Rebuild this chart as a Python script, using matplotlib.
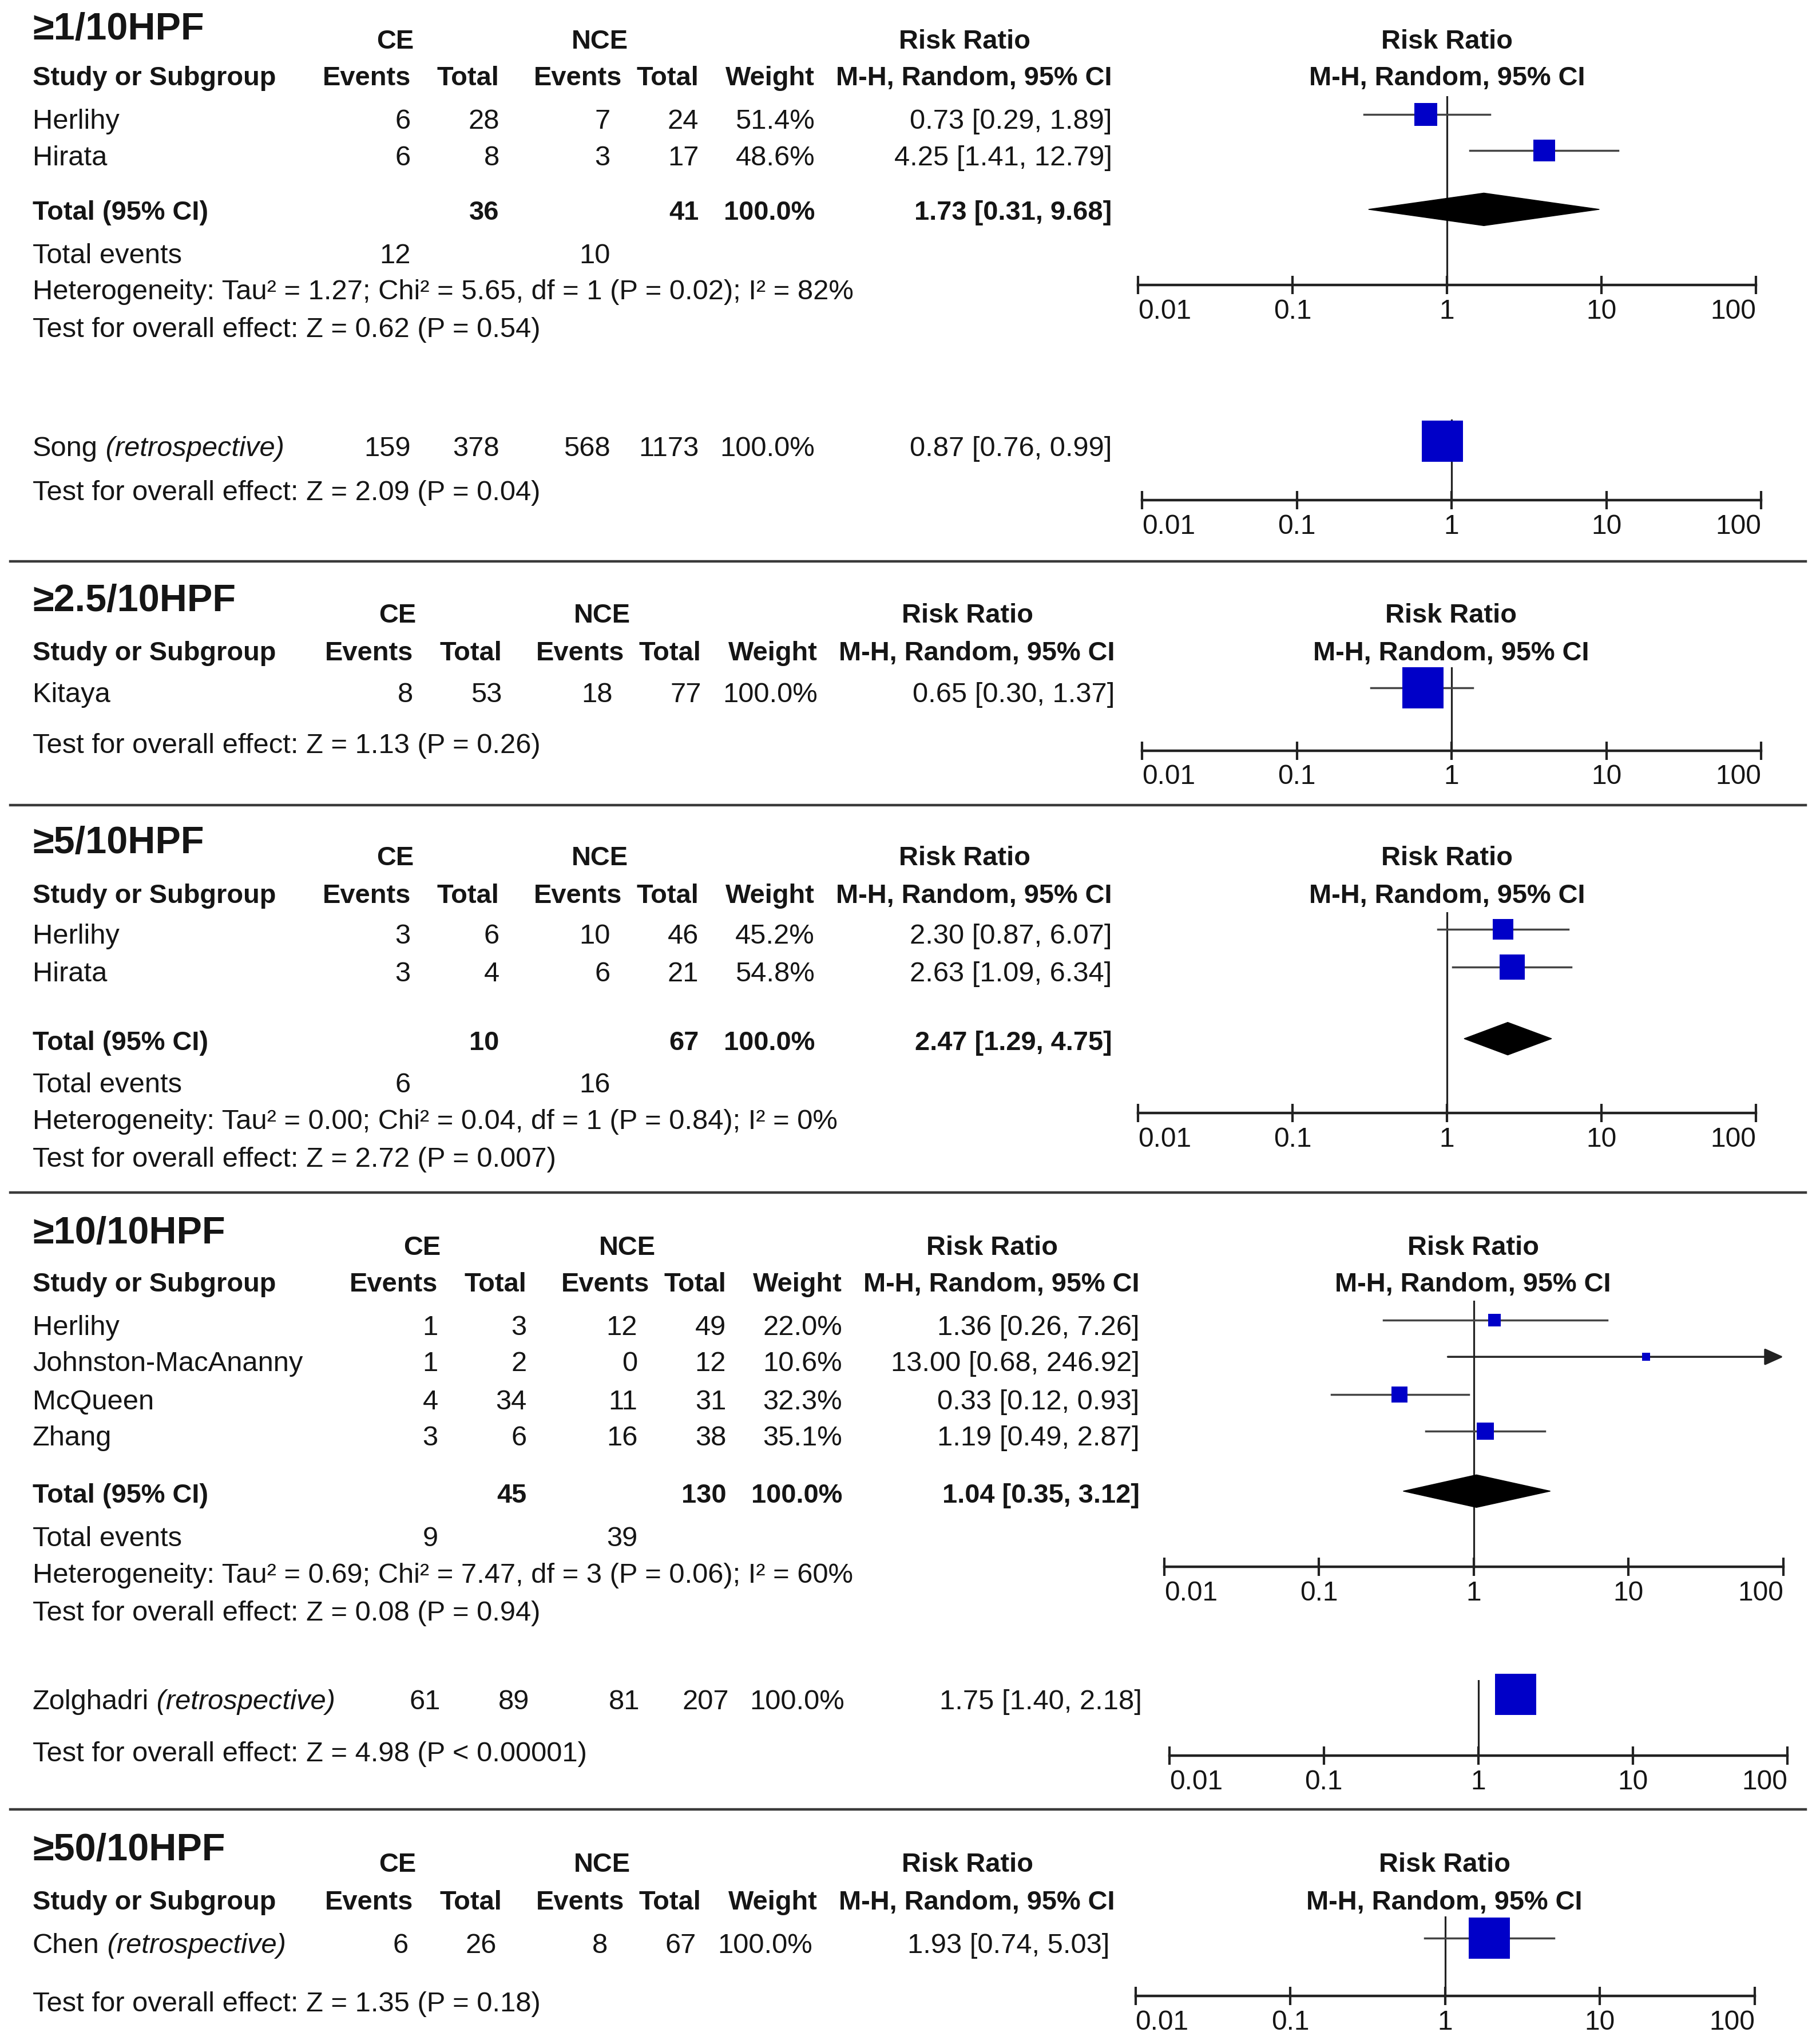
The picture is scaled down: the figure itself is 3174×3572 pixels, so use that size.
import matplotlib
matplotlib.use("Agg")
import matplotlib.pyplot as plt
from matplotlib.ticker import NullLocator

plt.rcParams['font.family'] = ['Liberation Sans', 'DejaVu Sans']

# ---------------- data ----------------
# >=1/10HPF, prospective studies
hpf1_study = ['Herlihy', 'Hirata']
hpf1_ce_ev = [6, 6]
hpf1_ce_n = [28, 8]
hpf1_nce_ev = [7, 3]
hpf1_nce_n = [24, 17]
hpf1_weight = [51.4, 48.6]
hpf1_rr = [0.73, 4.25]
hpf1_lo = [0.29, 1.41]
hpf1_hi = [1.89, 12.79]
hpf1_pooled = [1.73, 0.31, 9.68]
hpf1_totals = [36, 41]
hpf1_events = [12, 10]
hpf1_het = 'Heterogeneity: Tau² = 1.27; Chi² = 5.65, df = 1 (P = 0.02); I² = 82%'
hpf1_z = 'Test for overall effect: Z = 0.62 (P = 0.54)'

# >=1/10HPF, retrospective
song_study = ['Song']
song_ce_ev = [159]
song_ce_n = [378]
song_nce_ev = [568]
song_nce_n = [1173]
song_weight = [100.0]
song_rr = [0.87]
song_lo = [0.76]
song_hi = [0.99]
song_z = 'Test for overall effect: Z = 2.09 (P = 0.04)'

# >=2.5/10HPF
hpf25_study = ['Kitaya']
hpf25_ce_ev = [8]
hpf25_ce_n = [53]
hpf25_nce_ev = [18]
hpf25_nce_n = [77]
hpf25_weight = [100.0]
hpf25_rr = [0.65]
hpf25_lo = [0.30]
hpf25_hi = [1.37]
hpf25_z = 'Test for overall effect: Z = 1.13 (P = 0.26)'

# >=5/10HPF
hpf5_study = ['Herlihy', 'Hirata']
hpf5_ce_ev = [3, 3]
hpf5_ce_n = [6, 4]
hpf5_nce_ev = [10, 6]
hpf5_nce_n = [46, 21]
hpf5_weight = [45.2, 54.8]
hpf5_rr = [2.30, 2.63]
hpf5_lo = [0.87, 1.09]
hpf5_hi = [6.07, 6.34]
hpf5_pooled = [2.47, 1.29, 4.75]
hpf5_totals = [10, 67]
hpf5_events = [6, 16]
hpf5_het = 'Heterogeneity: Tau² = 0.00; Chi² = 0.04, df = 1 (P = 0.84); I² = 0%'
hpf5_z = 'Test for overall effect: Z = 2.72 (P = 0.007)'

# >=10/10HPF
hpf10_study = ['Herlihy', 'Johnston-MacAnanny', 'McQueen', 'Zhang']
hpf10_ce_ev = [1, 1, 4, 3]
hpf10_ce_n = [3, 2, 34, 6]
hpf10_nce_ev = [12, 0, 11, 16]
hpf10_nce_n = [49, 12, 31, 38]
hpf10_weight = [22.0, 10.6, 32.3, 35.1]
hpf10_rr = [1.36, 13.00, 0.33, 1.19]
hpf10_lo = [0.26, 0.68, 0.12, 0.49]
hpf10_hi = [7.26, 246.92, 0.93, 2.87]
hpf10_pooled = [1.04, 0.35, 3.12]
hpf10_totals = [45, 130]
hpf10_events = [9, 39]
hpf10_het = 'Heterogeneity: Tau² = 0.69; Chi² = 7.47, df = 3 (P = 0.06); I² = 60%'
hpf10_z = 'Test for overall effect: Z = 0.08 (P = 0.94)'

zol_study = ['Zolghadri']
zol_ce_ev = [61]
zol_ce_n = [89]
zol_nce_ev = [81]
zol_nce_n = [207]
zol_weight = [100.0]
zol_rr = [1.75]
zol_lo = [1.40]
zol_hi = [2.18]
zol_z = 'Test for overall effect: Z = 4.98 (P < 0.00001)'

# >=50/10HPF
hpf50_study = ['Chen']
hpf50_ce_ev = [6]
hpf50_ce_n = [26]
hpf50_nce_ev = [8]
hpf50_nce_n = [67]
hpf50_weight = [100.0]
hpf50_rr = [1.93]
hpf50_lo = [0.74]
hpf50_hi = [5.03]
hpf50_z = 'Test for overall effect: Z = 1.35 (P = 0.18)'

scale_ticks = [0.01, 0.1, 1, 10, 100]
scale_labels = ['0.01', '0.1', '1', '10', '100']

# ---------------- layout / style ----------------
W, H = 1393.0, 1568.0      # layout grid
FS = 35.2                  # body font size
BS = 33.8                  # bold header size
TS = 48                    # panel title size
TXT = '#151515'
BLUE = '#0000C8'
CI_COL = '#444444'
PX = 3174 / W              # figure px per grid unit

COLS = [315, 383, 468, 536, 625, 853]      # right edges of value columns
HCOLS = [315, 383, 477, 536, 625, 853]     # right edges of header labels

fig = plt.figure(figsize=(31.74, 35.73), dpi=100)
bg = fig.add_axes([0, 0, 1, 1])
bg.set_xlim(0, W)
bg.set_ylim(H, 0)
bg.axis('off')


def cap_half(size):
    return 0.716 * size * (100 / 72) / PX / 2


def txt(x, y, s, ha='left', bold=False, size=None, **kw):
    if size is None:
        size = BS if bold else FS
    return bg.text(x, y + cap_half(size), s, ha=ha, va='baseline', fontsize=size,
                   fontweight='bold' if bold else 'normal', color=TXT, **kw)


def header(title, yt, yg, yc, dx, fcx):
    txt(25, yt, title, bold=True, size=TS)
    txt(303 + dx, yg, 'CE', ha='center', bold=True)
    txt(460 + dx, yg, 'NCE', ha='center', bold=True)
    txt(740 + dx, yg, 'Risk Ratio', ha='center', bold=True)
    txt(fcx, yg, 'Risk Ratio', ha='center', bold=True)
    txt(25, yc, 'Study or Subgroup', bold=True)
    for x, lab in zip(HCOLS, ['Events', 'Total', 'Events', 'Total', 'Weight',
                              'M-H, Random, 95% CI']):
        txt(x + dx, yc, lab, ha='right', bold=True)
    txt(fcx, yc, 'M-H, Random, 95% CI', ha='center', bold=True)


def study_rows(ys, dx, study, ce_ev, ce_n, nce_ev, nce_n, wt, rr, lo, hi, retro=False):
    for i, y in enumerate(ys):
        t = txt(25, y, study[i])
        if retro:
            bg.annotate(' (retrospective)', xy=(1, y + cap_half(FS)), xycoords=(t, 'data'),
                        ha='left', va='baseline', fontsize=FS, style='italic', color=TXT)
        vals = [str(ce_ev[i]), str(ce_n[i]), str(nce_ev[i]), str(nce_n[i]),
                f'{wt[i]:.1f}%', f'{rr[i]:.2f} [{lo[i]:.2f}, {hi[i]:.2f}]']
        for x, v in zip(COLS, vals):
            txt(x + dx, y, v, ha='right')


def pooled_rows(ytot, yev, yhet, dx, totals, events, pooled, het):
    txt(25, ytot, 'Total (95% CI)', bold=True)
    txt(COLS[1] + dx, ytot, str(totals[0]), ha='right', bold=True)
    txt(COLS[3] + dx, ytot, str(totals[1]), ha='right', bold=True)
    txt(COLS[4] + dx, ytot, '100.0%', ha='right', bold=True)
    txt(COLS[5] + dx, ytot, f'{pooled[0]:.2f} [{pooled[1]:.2f}, {pooled[2]:.2f}]',
        ha='right', bold=True)
    txt(25, yev, 'Total events')
    txt(COLS[0] + dx, yev, str(events[0]), ha='right')
    txt(COLS[2] + dx, yev, str(events[1]), ha='right')
    txt(25, yhet, het)


def forest(x0, x1, ytop, yaxis, ys, rr, lo, hi, wt, pooled=None, ypool=None):
    ax = fig.add_axes([x0 / W, 1 - yaxis / H, (x1 - x0) / W, (yaxis - ytop) / H])
    ax.set_xscale('log')
    ax.set_xlim(scale_ticks[0], scale_ticks[-1])
    ax.set_ylim(yaxis, ytop)
    ax.patch.set_alpha(0)
    for s in ['left', 'right', 'top']:
        ax.spines[s].set_visible(False)
    ax.spines['bottom'].set_linewidth(3.2)
    ax.spines['bottom'].set_color('#222222')
    ax.set_yticks([])
    ax.set_xticks(scale_ticks)
    ax.set_xticklabels(scale_labels)
    ax.xaxis.set_minor_locator(NullLocator())
    ax.tick_params(axis='x', direction='inout', length=23, width=3, color='#222222',
                   labelsize=34.5, labelcolor=TXT, pad=5)
    labs = ax.get_xticklabels()
    labs[0].set_ha('left')
    labs[-1].set_ha('right')
    ax.axvline(1, color='#222222', lw=2.3, zorder=1)
    xmax = scale_ticks[-1]
    for i, y in enumerate(ys):
        ym = y - 3
        if hi[i] > xmax:
            # CI runs off the scale: draw an arrow ending at the axis limit
            ax.annotate('', xy=(xmax, ym), xytext=(lo[i], ym), zorder=2,
                        arrowprops=dict(arrowstyle='-|>,head_length=1.0,head_width=0.45',
                                        mutation_scale=20, color='#222222', lw=2.5,
                                        shrinkA=0, shrinkB=0))
        else:
            ax.plot([lo[i], hi[i]], [ym, ym], color=CI_COL, lw=2.5, zorder=2, clip_on=False)
        # box side grows with study weight
        side = (3 + 29 * wt[i] / 100) * PX * 0.72
        ax.plot([rr[i]], [ym], marker='s', ms=side, mfc=BLUE, mec=BLUE, mew=0,
                zorder=3, clip_on=False)
    if pooled is not None:
        r, l, h = pooled
        ax.fill([l, r, h, r], [ypool, ypool - 12.5, ypool, ypool + 12.5],
                color='black', zorder=3, clip_on=False)
    return ax


def separator(y):
    bg.axhline(y, xmin=8 / W, xmax=1385 / W, color='#3a3a3a', lw=3.2)


# ---- >=1/10HPF ----
header('≥1/10HPF', 20, 30, 58, 0, 1110)
ys = [91, 119]
study_rows(ys, 0, hpf1_study, hpf1_ce_ev, hpf1_ce_n, hpf1_nce_ev, hpf1_nce_n,
           hpf1_weight, hpf1_rr, hpf1_lo, hpf1_hi)
pooled_rows(161, 194, 222, 0, hpf1_totals, hpf1_events, hpf1_pooled, hpf1_het)
txt(25, 251, hpf1_z)
forest(873, 1347, 74, 219, ys, hpf1_rr, hpf1_lo, hpf1_hi, hpf1_weight, hpf1_pooled, 161)

ys = [342]
study_rows(ys, 0, song_study, song_ce_ev, song_ce_n, song_nce_ev, song_nce_n,
           song_weight, song_rr, song_lo, song_hi, retro=True)
txt(25, 376, song_z)
forest(876, 1351, 322, 384, ys, song_rr, song_lo, song_hi, song_weight)
separator(431)

# ---- >=2.5/10HPF ----
header('≥2.5/10HPF', 458, 470, 499, 2, 1113)
ys = [531]
study_rows(ys, 2, hpf25_study, hpf25_ce_ev, hpf25_ce_n, hpf25_nce_ev, hpf25_nce_n,
           hpf25_weight, hpf25_rr, hpf25_lo, hpf25_hi)
txt(25, 570, hpf25_z)
forest(876, 1351, 512, 576, ys, hpf25_rr, hpf25_lo, hpf25_hi, hpf25_weight)
separator(618)

# ---- >=5/10HPF ----
header('≥5/10HPF', 644, 656, 685, 0, 1110)
ys = [716, 745]
study_rows(ys, 0, hpf5_study, hpf5_ce_ev, hpf5_ce_n, hpf5_nce_ev, hpf5_nce_n,
           hpf5_weight, hpf5_rr, hpf5_lo, hpf5_hi)
pooled_rows(798, 830, 858, 0, hpf5_totals, hpf5_events, hpf5_pooled, hpf5_het)
txt(25, 887, hpf5_z)
forest(873, 1347, 700, 854, ys, hpf5_rr, hpf5_lo, hpf5_hi, hpf5_weight, hpf5_pooled, 797)
separator(915)

# ---- >=10/10HPF ----
header('≥10/10HPF', 943, 955, 983, 21, 1130)
ys = [1016, 1044, 1073, 1101]
study_rows(ys, 21, hpf10_study, hpf10_ce_ev, hpf10_ce_n, hpf10_nce_ev, hpf10_nce_n,
           hpf10_weight, hpf10_rr, hpf10_lo, hpf10_hi)
pooled_rows(1145, 1178, 1206, 21, hpf10_totals, hpf10_events, hpf10_pooled, hpf10_het)
txt(25, 1235, hpf10_z)
forest(893, 1368, 998, 1202, ys, hpf10_rr, hpf10_lo, hpf10_hi, hpf10_weight,
       hpf10_pooled, 1144)

ys = [1303]
study_rows(ys, 23, zol_study, zol_ce_ev, zol_ce_n, zol_nce_ev, zol_nce_n,
           zol_weight, zol_rr, zol_lo, zol_hi, retro=True)
txt(25, 1343, zol_z)
forest(897, 1371, 1289, 1347, ys, zol_rr, zol_lo, zol_hi, zol_weight)
separator(1388)

# ---- >=50/10HPF ----
header('≥50/10HPF', 1416, 1428, 1457, 2, 1108)
ys = [1490]
study_rows(ys, -2, hpf50_study, hpf50_ce_ev, hpf50_ce_n, hpf50_nce_ev, hpf50_nce_n,
           hpf50_weight, hpf50_rr, hpf50_lo, hpf50_hi, retro=True)
txt(25, 1535, hpf50_z)
forest(871, 1346, 1470, 1531, ys, hpf50_rr, hpf50_lo, hpf50_hi, hpf50_weight)

fig.savefig('out.png', dpi=100, facecolor='white')
